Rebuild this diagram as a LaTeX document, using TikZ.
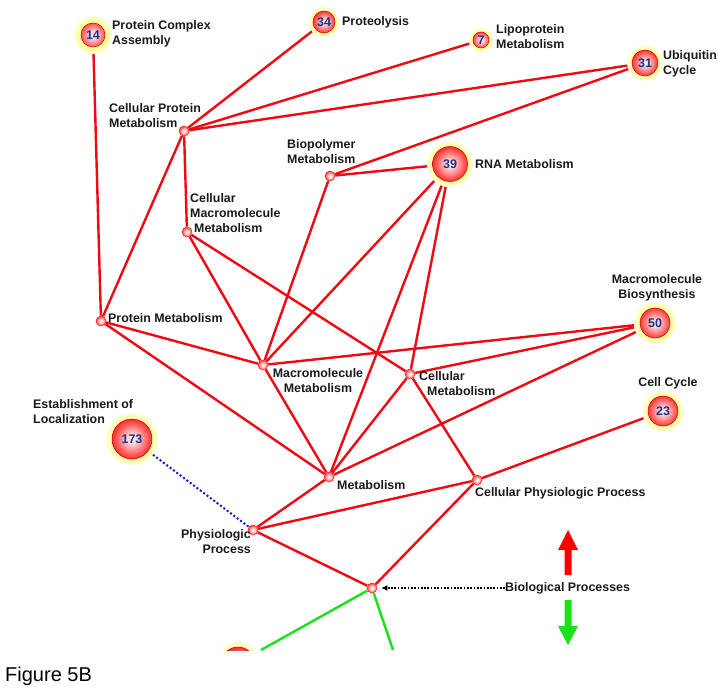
\documentclass[tikz,border=0pt]{standalone}
\usepackage{fontspec}
\setmainfont{Liberation Sans}
\usetikzlibrary{backgrounds,arrows.meta}
\definecolor{gored}{RGB}{240,8,18}
\definecolor{gogreen}{RGB}{24,226,24}
\definecolor{goblue}{RGB}{20,20,205}
\definecolor{gonum}{RGB}{28,52,140}
\definecolor{gohalo}{RGB}{255,252,160}
\pgfdeclareradialshading{goball}{\pgfpoint{0bp}{0bp}}{color(0bp)=(white); color(5bp)=(red!18); color(15bp)=(red!65); color(22bp)=(red!92); color(25bp)=(red!80!black); color(50bp)=(red!80!black)}
\pgfdeclareradialshading{gopin}{\pgfpoint{0bp}{0bp}}{color(0bp)=(white); color(10bp)=(red!20); color(20bp)=(red!55); color(25bp)=(red!75); color(50bp)=(red!75)}
\pgfdeclareradialshading{gohaloshade}{\pgfpoint{0bp}{0bp}}{color(0bp)=(gohalo); color(20bp)=(gohalo); color(25bp)=(gohalo!40); color(50bp)=(white)}

\begin{document}
\begin{tikzpicture}[x=1pt,y=-1pt,
    gonode/.style 2 args={circle, inner sep=0pt, minimum size=2*#1,
      shade, shading=gohaloshade,
      path picture={
        \shade[shading=goball] (path picture bounding box.center) circle (#2);
        \draw[red!75!black, line width=.5pt] (path picture bounding box.center) circle (#2);
      },
      font=\bfseries\fontsize{12.5}{12.5}\selectfont, text=gonum},
    gosmall/.style={circle, inner sep=0pt, minimum size=10pt,
      shade, shading=gopin, draw=red!85, line width=.6pt},
    golabel/.style={inner sep=0pt, align=left, text=black!90,
      font=\bfseries\fontsize{12.4}{15}\selectfont},
    goedge/.style={gored, line width=2.4pt},
    greenedge/.style={gogreen, line width=2.4pt},
    dotedge/.style={goblue, line width=2pt, dash pattern=on 2pt off 2.2pt},
    pointer/.style={black, line width=1.7pt, dash pattern=on 1.7pt off 1.6pt,
      -{Latex[length=6pt,width=6pt]}, shorten >=4pt}
  ]
  \useasboundingbox (0,0) rectangle (724,693);

  % go terms with counts
  \node[gonode={19pt}{12pt}] (n14) at (93,35) {14};
  \node[gonode={15pt}{11pt}] (n34) at (324,22) {34};
  \node[gonode={12pt}{8pt}] (n7) at (481,40) {7};
  \node[gonode={17.5pt}{13pt}] (n31) at (645,63) {31};
  \node[gonode={23pt}{17.5pt}] (n39) at (450,164) {39};
  \node[gonode={21pt}{15pt}] (n50) at (655,323) {50};
  \node[gonode={20.5pt}{15pt}] (n23) at (663,411) {23};
  \node[gonode={26pt}{20pt}] (n173) at (132,439) {173};
  \begin{scope}
    \clip (0,0) rectangle (724,650);
    \node[gonode={22pt}{17pt}] (nlow) at (238,664) {};
  \end{scope}

  % inner terms
  \node[gosmall] (cpm) at (184,131) {};
  \node[gosmall] (bpm) at (330,176) {};
  \node[gosmall] (cmm) at (187,232) {};
  \node[gosmall] (pm) at (101,321) {};
  \node[gosmall] (mm) at (263,365) {};
  \node[gosmall] (cm) at (410,374) {};
  \node[gosmall] (met) at (329,477) {};
  \node[gosmall] (cpp) at (477,480) {};
  \node[gosmall] (pp) at (253,530) {};
  \node[gosmall] (bp) at (372,588) {};

  % labels
  \node[golabel, anchor=west] (l14) at (112,33.5) {Protein Complex\\Assembly};
  \node[golabel, anchor=west] (l34) at (342,22) {Proteolysis};
  \node[golabel, anchor=west] (l7) at (496,37) {Lipoprotein\\Metabolism};
  \node[golabel, anchor=west] (l31) at (663,64) {Ubiquitin\\Cycle};
  \node[golabel, anchor=west] (l39) at (475,164) {RNA Metabolism};
  \node[golabel, align=center] (l50) at (657,288) {Macromolecule\\Biosynthesis};
  \node[golabel] (l23) at (668,383) {Cell Cycle};
  \node[golabel, anchor=west] (l173) at (33,411.5) {Establishment of\\Localization};
  \node[golabel, anchor=west] (lcpm) at (109,115.5) {Cellular Protein\\Metabolism};
  \node[golabel, anchor=west] (lbpm) at (287,151.5) {Biopolymer\\Metabolism};
  \node[golabel, anchor=west] (lcmm) at (190,213.5) {Cellular\\Macromolecule\\\hspace*{4pt}Metabolism};
  \node[golabel, anchor=west] (lpm) at (108,318) {Protein Metabolism};
  \node[golabel, align=center] (lmm) at (318,380.5) {Macromolecule\\Metabolism};
  \node[golabel, anchor=west] (lcm) at (419,384) {Cellular\\\hspace*{8pt}Metabolism};
  \node[golabel, anchor=west] (lmet) at (337,485) {Metabolism};
  \node[golabel, anchor=west] (lcpp) at (475,493) {Cellular Physiologic Process};
  \node[golabel, align=right, anchor=east] (lpp) at (251,541.5) {Physiologic\\Process};
  \node[golabel, anchor=west] (lbp) at (505,588) {Biological Processes};
  \node[inner sep=0pt, anchor=west, font=\fontsize{20}{20}\selectfont] (figlabel) at (5,676) {Figure 5B};

  % edges
  \begin{pgfonlayer}{background}
    \draw[goedge] (n14) -- (pm);
    \draw[goedge] (n34) -- (cpm);
    \draw[goedge] (n7) -- (cpm);
    \draw[goedge] (n31) -- (cpm);
    \draw[goedge] (n31) -- (bpm);
    \draw[goedge] (cpm) -- (cmm);
    \draw[goedge] (cpm) -- (pm);
    \draw[goedge] (bpm) -- (n39);
    \draw[goedge] (bpm) -- (mm);
    \draw[goedge] (n39) -- (mm);
    \draw[goedge] (n39) -- (met);
    \draw[goedge] (n39) -- (cm);
    \draw[goedge] (cmm) -- (mm);
    \draw[goedge] (cmm) -- (cm);
    \draw[goedge] (pm) -- (mm);
    \draw[goedge] (pm) -- (met);
    \draw[goedge] (mm) -- (n50);
    \draw[goedge] (mm) -- (met);
    \draw[goedge] (cm) -- (n50);
    \draw[goedge] (cm) -- (met);
    \draw[goedge] (cm) -- (cpp);
    \draw[goedge] (met) -- (n50);
    \draw[goedge] (met) -- (pp);
    \draw[goedge] (pp) -- (cpp);
    \draw[goedge] (cpp) -- (n23);
    \draw[goedge] (pp) -- (bp);
    \draw[goedge] (bp) -- (cpp);
    \draw[dotedge] (n173) -- (pp);
    \coordinate (lowleft) at (261,650);
    \coordinate (lowright) at (393,650);
    \draw[greenedge] (bp) -- (lowleft);
    \draw[greenedge] (bp) -- (lowright);
  \end{pgfonlayer}

  \draw[pointer] (lbp.west) -- (bp);

  % direction marks
  \coordinate (upmark) at (568,530);
  \coordinate (downmark) at (568,645);
  \fill[red] (upmark) -- ++(10,20) -- ++(-6.5,0) -- ++(0,25) -- ++(-7,0) -- ++(0,-25) -- ++(-6.5,0) -- cycle;
  \fill[gogreen] (downmark) -- ++(10,-19) -- ++(-6.5,0) -- ++(0,-26) -- ++(-7,0) -- ++(0,26) -- ++(-6.5,0) -- cycle;
\end{tikzpicture}
\end{document}
